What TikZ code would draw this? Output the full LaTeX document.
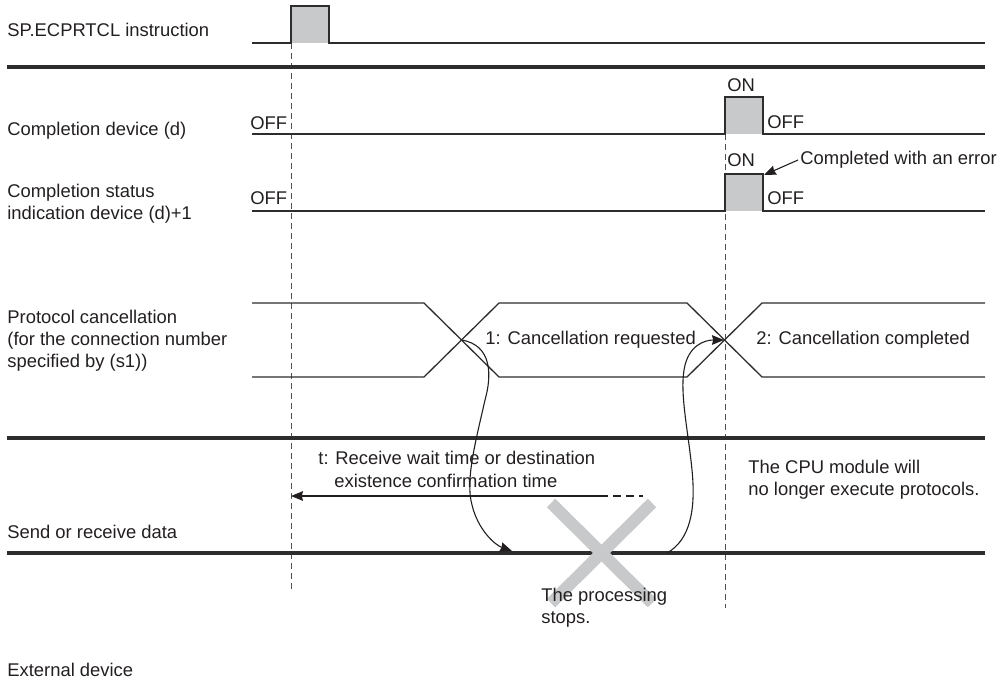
\documentclass[tikz,border=0pt]{standalone}
\usepackage{fontspec}
\setmainfont{Liberation Sans}
\usepackage{tikz}
\usetikzlibrary{arrows.meta,calc}
\usepackage{xcolor}
\definecolor{inkgray}{RGB}{35,31,32}
\definecolor{wavegray}{RGB}{45,45,45}
\definecolor{pulsegray}{RGB}{200,201,202}
\definecolor{guidegray}{RGB}{80,80,80}
\newcommand{\chartfont}{\fontsize{9.2}{11}\selectfont}

\begin{document}
\begin{tikzpicture}[x=0.5pt,y=-0.5pt,
  lbl/.style={anchor=west,inner sep=0pt,align=left,font=\chartfont,text=inkgray},
  wave/.style={draw=wavegray,line width=0.65pt},
  bus/.style={draw=wavegray,line width=1.6pt},
  guide/.style={draw=guidegray,line width=0.5pt,dash pattern=on 3pt off 2pt},
  tip/.style={-{Stealth[length=6pt,width=4.8pt,inset=0.6pt]},draw=inkgray,line width=0.55pt}]
  \useasboundingbox (0,0) rectangle (999,690);
  \pgfmathsetmacro{\tA}{291}
  \pgfmathsetmacro{\tB}{725}
  \pgfmathsetmacro{\xL}{252}
  \pgfmathsetmacro{\xR}{985}
  % row names
  \node[lbl] (sp) at (7,30) {SP.ECPRTCL instruction};
  \node[lbl] (cd) at (7,131) {Completion device (d)};
  \node[lbl] (cs) at (7,204) {Completion status\\indication device (d)+1};
  \node[lbl] (pc) at (7,341) {Protocol cancellation\\(for the connection number\\specified by (s1))};
  \node[lbl] (sr) at (7,532) {Send or receive data};
  \node[lbl] (ex) at (7,670) {External device};
  % timing guides
  \draw[guide] (\tA,43) -- (\tA,592);
  \draw[guide] (\tB,134) -- (\tB,608);
  % separators
  \draw[bus] (7,67) -- (\xR,67);
  \draw[bus] (7,438) -- (\xR,438);
  \draw[bus] (7,553) -- (\xR,553);
  % instruction pulse
  \fill[pulsegray] (\tA,6) rectangle (329,43);
  \draw[wave] (\xL,43) -- (\tA,43) |- (329,6) -- (329,43) -- (\xR,43);
  % completion device and status
  \fill[pulsegray] (\tB,97) rectangle (763,134);
  \draw[wave] (\xL,134) -- (\tB,134) |- (763,97) -- (763,134) -- (\xR,134);
  \fill[pulsegray] (\tB,174) rectangle (763,211);
  \draw[wave] (\xL,211) -- (\tB,211) |- (763,174) -- (763,211) -- (\xR,211);
  \node[lbl] (off1) at (250,123) {OFF};
  \node[lbl] (off2) at (250,198) {OFF};
  \node[lbl] (on1) at (727,85) {ON};
  \node[lbl] (on2) at (727,160) {ON};
  \node[lbl] (off3) at (767,122) {OFF};
  \node[lbl] (off4) at (767,198) {OFF};
  \node[lbl] (err) at (800,160) {Completed with an error};
  \coordinate (errtip) at (764,175);
  \draw[tip] ([xshift=-1]err.west) -- (errtip);
  % protocol cancellation bus
  \draw[wave] (\xL,303) -- (424,303) -- (499,377) -- (687,377) -- (762,303) -- (\xR,303);
  \draw[wave] (\xL,377) -- (424,377) -- (499,303) -- (687,303) -- (762,377) -- (\xR,377);
  \coordinate (x1) at (461.5,340);
  \coordinate (x2) at (724,340);
  \node[lbl] (req) at (485,340) {1: Cancellation requested};
  \node[lbl] (cmp) at (756,340) {2: Cancellation completed};
  % receive wait time
  \coordinate (thit) at (\tA,496);
  \coordinate (tend) at (600,496);
  \coordinate (tdash) at (643,496);
  \draw[tip] (tend) -- (thit);
  \draw[draw=inkgray,line width=0.55pt,dash pattern=on 4pt off 2.5pt] (tend) -- (tdash);
  \node[lbl] (t1) at (318,458) {t: Receive wait time or destination};
  \node[lbl] (t2) at (334,481) {existence confirmation time};
  \node[lbl] (cpu) at (748,480) {The CPU module will\\no longer execute protocols.};
  % processing stops
  \draw[pulsegray,line width=6pt] (551,503) -- (652,603) (652,503) -- (551,603);
  \node[lbl] (stop) at (541,608) {The processing\\stops.};
  \coordinate (hit) at (512,551);
  \coordinate (back) at (667,553);
  \draw[tip] (x1) .. controls (492,345) and (492,375) .. (485,400)
    .. controls (476,440) and (465,480) .. (472,505)
    .. controls (478,530) and (495,545) .. (hit);
  \draw[tip] (back) .. controls (690,540) and (696,510) .. (692,470)
    .. controls (688,430) and (680,395) .. (684,370)
    .. controls (688,345) and (705,340) .. (x2);
\end{tikzpicture}
\end{document}
